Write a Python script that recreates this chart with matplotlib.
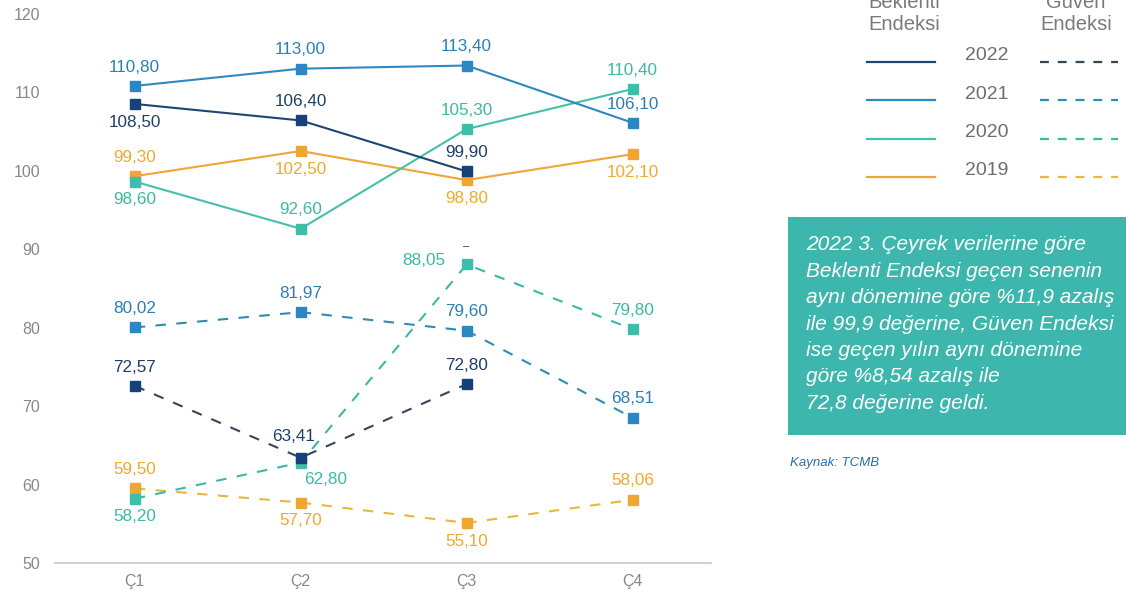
import numpy as np
import matplotlib
matplotlib.use("Agg")
import matplotlib.pyplot as plt
from matplotlib.patches import Rectangle

plt.rcParams["font.family"] = ["Liberation Sans", "DejaVu Sans"]

quarters = ["Ç1", "Ç2", "Ç3", "Ç4"]
years = ["2022", "2021", "2020", "2019"]

# Beklenti Endeksi (solid)
bek_2022 = [108.50, 106.40, 99.90, np.nan]
bek_2021 = [110.80, 113.00, 113.40, 106.10]
bek_2020 = [98.60, 92.60, 105.30, 110.40]
bek_2019 = [99.30, 102.50, 98.80, 102.10]

# Güven Endeksi (dashed)
guv_2022 = [72.57, 63.41, 72.80, np.nan]
guv_2021 = [80.02, 81.97, 79.60, 68.51]
guv_2020 = [58.20, 62.80, 88.05, 79.80]
guv_2019 = [59.50, 57.70, 55.10, 58.06]

yticks = [50, 60, 70, 80, 90, 100, 110, 120]

note = ("2022 3. Çeyrek verilerine göre\n"
        "Beklenti Endeksi geçen senenin\n"
        "aynı dönemine göre %11,9 azalış\n"
        "ile 99,9 değerine, Güven Endeksi\n"
        "ise geçen yılın aynı dönemine\n"
        "göre %8,54 azalış ile\n"
        "72,8 değerine geldi.")

marker_col = {"2022": "#15407a", "2021": "#2a87c4", "2020": "#3cbfa8", "2019": "#f2a632"}
solid_col = {"2022": "#1f4670", "2021": "#2f88c0", "2020": "#45c0ab", "2019": "#efa638"}
dash_col = {"2022": "#34465a", "2021": "#2d8db0", "2020": "#3ab9a2", "2019": "#e6b93c"}
label_col = {"2022": "#1d3f6a", "2021": "#2b7fb5", "2020": "#3cb9a4", "2019": "#eeaa2e"}

bek = {"2022": bek_2022, "2021": bek_2021, "2020": bek_2020, "2019": bek_2019}
guv = {"2022": guv_2022, "2021": guv_2021, "2020": guv_2020, "2019": guv_2019}

UP, DN = (0, 13.5), (0, -13)
bek_off = {
    "2022": [DN, UP, UP, None],
    "2021": [UP, UP, UP, UP],
    "2020": [DN, UP, UP, UP],
    "2019": [UP, DN, DN, DN],
}
guv_off = {
    "2022": [UP, (-5, 15), UP, None],
    "2021": [UP, UP, UP, UP],
    "2020": [DN, (18, -12), (-31, 3), UP],
    "2019": [UP, DN, DN, UP],
}

fig = plt.figure(figsize=(11.26, 5.97), dpi=100)
ax = fig.add_axes([0.049, 0.057, 0.582, 0.92])
x = np.arange(len(quarters))

for yr in years[::-1]:
    ax.plot(x, guv[yr], color=dash_col[yr], lw=1.5, ls=(0, (5, 5)), zorder=2)
    ax.plot(x, guv[yr], ls="none", marker="s", ms=7, color=marker_col[yr], zorder=3)
    ax.plot(x, bek[yr], color=solid_col[yr], lw=1.5, zorder=2)
    ax.plot(x, bek[yr], ls="none", marker="s", ms=7, color=marker_col[yr], zorder=3)

for data, offs in ((bek, bek_off), (guv, guv_off)):
    for yr in years:
        for i, v in enumerate(data[yr]):
            if np.isnan(v):
                continue
            ax.annotate(f"{v:.2f}".replace(".", ","), (x[i], v), xytext=offs[yr][i],
                        textcoords="offset points", ha="center", va="center",
                        fontsize=12.3, color=label_col[yr])

# stray dash above the 88,05 marker
ax.annotate("–", (x[2], guv_2020[2]), xytext=(0, 13), textcoords="offset points",
            ha="center", va="center", fontsize=8, color="#333333")

ax.set_xlim(-0.48, 3.47)
ax.set_ylim(50, 120)
ax.set_xticks(x)
ax.set_xticklabels(quarters)
ax.set_yticks(yticks)
ax.tick_params(length=0, labelsize=11.5, labelcolor="#888888")
ax.tick_params(axis="x", pad=8)
ax.tick_params(axis="y", pad=11)
for s in ("top", "right", "left"):
    ax.spines[s].set_visible(False)
ax.spines["bottom"].set_color("#c8c8c8")
ax.spines["bottom"].set_linewidth(1.2)

# right-hand legend and note, in pixel coordinates
ov = fig.add_axes([0, 0, 1, 1], zorder=-1)
ov.set_xlim(0, 1126)
ov.set_ylim(597, 0)
ov.axis("off")

ov.text(904, 13, "Beklenti\nEndeksi", ha="center", va="center", fontsize=14.5,
        color="#7a7a7a", linespacing=1.2)
ov.text(1076, 13, "Güven\nEndeksi", ha="center", va="center", fontsize=14.5,
        color="#7a7a7a", linespacing=1.2)
for k, yr in enumerate(years):
    yy = 62 + k * 38.3
    ov.plot([867, 935], [yy, yy], color=solid_col[yr], lw=1.6)
    ov.plot([1040, 1118], [yy, yy], color=dash_col[yr], lw=1.6, ls=(0, (4, 4)))
    ov.text(987, yy - 6, yr, ha="center", va="center", fontsize=14, color="#6e6e6e")

ov.add_patch(Rectangle((788, 217), 340, 218, color="#3db7ad", lw=0))
ov.text(806, 324, note, ha="left", va="center", fontsize=15, color="white",
        style="italic", linespacing=1.49)
ov.text(790, 463, "Kaynak: TCMB", ha="left", va="center", fontsize=9.5,
        color="#2a6ea8", style="italic")

fig.savefig("out.png", dpi=100)
